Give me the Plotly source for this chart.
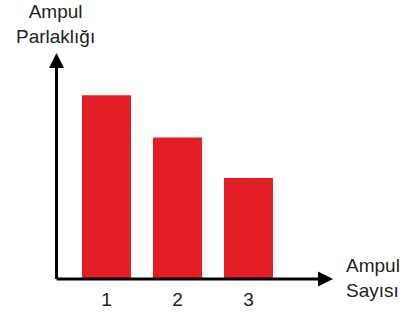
import plotly.graph_objects as go

categories = [1, 2, 3]
tick_labels = ["1", "2", "3"]
brightness = [9.1, 7.0, 5.0]

bar_color = "#E31E24"
font_family = "Liberation Sans, Arial, sans-serif"

x_range = [0.0634, 4.655]
y_range = [0, 11.83]
axis_x0 = 0.296
axis_x_tip = 4.19
axis_y_tip = 11.19

fig = go.Figure()
fig.add_trace(go.Bar(
    x=categories, y=brightness,
    marker=dict(color=bar_color, line=dict(width=0)),
    width=0.69,
))

# axes with arrowheads
fig.add_annotation(x=axis_x_tip, y=0, ax=axis_x0 - 0.02, ay=0, xref="x", yref="y",
                   axref="x", ayref="y", text="", showarrow=True,
                   arrowhead=2, arrowsize=1, arrowwidth=3, arrowcolor="black")
fig.add_annotation(x=axis_x0, y=axis_y_tip, ax=axis_x0, ay=-0.07, xref="x", yref="y",
                   axref="x", ayref="y", text="", showarrow=True,
                   arrowhead=2, arrowsize=1, arrowwidth=3, arrowcolor="black")

fig.add_annotation(x=0.049, y=1.066, xref="paper", yref="paper",
                   text="Ampul<br>Parlaklığı", showarrow=False,
                   xanchor="center", yanchor="middle", align="center",
                   font=dict(size=19, color="#222", family=font_family))
fig.add_annotation(x=0.9325, y=0.004, xref="paper", yref="paper",
                   text="Ampul<br>Sayısı", showarrow=False,
                   xanchor="left", yanchor="middle", align="left",
                   font=dict(size=19, color="#222", family=font_family))

fig.update_layout(
    width=406, height=322,
    margin=dict(l=40, r=40, t=40, b=43),
    paper_bgcolor="white", plot_bgcolor="white",
    showlegend=False,
    font=dict(family=font_family, size=19, color="#222"),
    xaxis=dict(range=x_range, tickvals=categories, ticktext=tick_labels,
               showgrid=False, zeroline=False, showline=False, ticks="",
               ticklabelstandoff=7, automargin=False),
    yaxis=dict(range=y_range, showgrid=False, zeroline=False, showline=False,
               showticklabels=False, ticks="", automargin=False),
)

fig.write_html("out.html", config={"displayModeBar": False},
               post_script="document.body.style.margin='0';document.body.style.overflow='hidden';")
